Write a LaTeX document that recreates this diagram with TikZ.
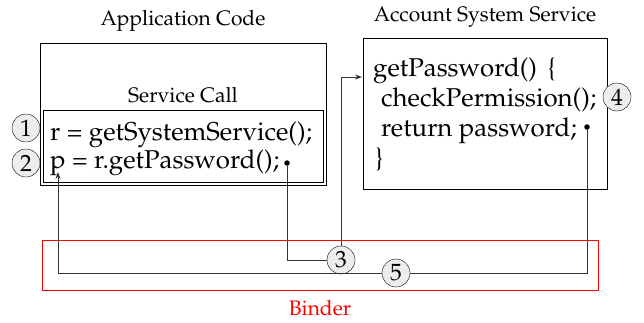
\documentclass[tikz,border=0pt]{standalone}
\usepackage[T1]{fontenc}
\usepackage{mathpazo}
\usetikzlibrary{arrows.meta}
\begin{document}
\begin{tikzpicture}[x=1pt,y=-1pt,
  codetxt/.style={anchor=base west,inner sep=0pt,font=\fontsize{25.8}{30}\selectfont},
  titletxt/.style={inner sep=0pt,font=\fontsize{21}{25}\selectfont},
  stepnum/.style={circle,draw,fill=black!7,inner sep=0pt,minimum width=27pt,minimum height=28pt,font=\fontsize{23.5}{26}\selectfont},
  dotpt/.style={circle,fill=black,inner sep=0pt,minimum size=5.5pt},
  conn/.style={line width=0.9pt,draw=black!80},
  arr/.style={conn,-{Stealth[length=7pt,width=5pt]}}]
\useasboundingbox (0,0) rectangle (644,322);
% boxes
\draw[line width=0.9pt] (40,43) rectangle (326,185);
\draw[line width=0.9pt] (43,110) rectangle (323,182);
\draw[line width=0.9pt] (363,38) rectangle (607,189);
\draw[red,line width=0.9pt] (42,240) rectangle (598,290);
% titles
\node[titletxt] (appt) at (183,21) {Application Code};
\node[titletxt] (svct) at (183,95) {Service Call};
\node[titletxt] (acct) at (485,17) {Account System Service};
\node[titletxt,text=red] (bind) at (320,308) {Binder};
% code
\node[codetxt] (l1) at (50,140) {r = getSystemService();};
\node[codetxt] (l2) at (50,168) {p = r.getPassword();};
\node[codetxt] (r1) at (373,76) {getPassword()\hspace{0.4em}\{};
\node[codetxt] (r2) at (381,106) {checkPermission();};
\node[codetxt] (r3) at (381,136) {return password;};
\node[codetxt] (r4) at (375,166) {\}};
% step markers
\node[stepnum] (c1) at (26,128) {1};
\node[stepnum] (c2) at (26,163) {2};
\node[stepnum] (c4) at (617,97) {4};
\node[stepnum] (c3) at (341,260) {3};
\node[stepnum] (c5) at (396,273) {5};
% dots and targets
\node[dotpt] (d1) at (287,163) {};
\node[dotpt] (d2) at (587,127) {};
\coordinate (t1) at (362,77);
\coordinate (t2) at (58,172);
% connectors
\draw[conn] (d1) |- (c3);
\draw[arr] (c3) |- (t1);
\draw[conn] (d2) |- (c5);
\draw[arr] (c5) -| (t2);
\end{tikzpicture}
\end{document}
